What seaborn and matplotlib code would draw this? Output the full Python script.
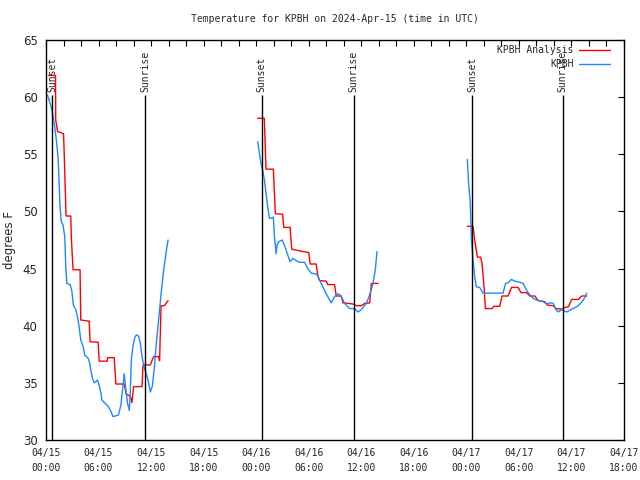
import pandas as pd
import numpy as np
import matplotlib
matplotlib.use("Agg")
import matplotlib.pyplot as plt
import matplotlib.dates as mdates
import seaborn as sns

# hours since 2024-04-15 00:00 UTC, temps in degrees F
# KPBH Analysis (red), three pieces
red_h1 = [0.29, 1.09, 1.11, 1.32, 2.0, 2.06, 2.29, 2.83, 2.9, 3.09, 3.89, 3.97, 4.93, 5.04, 5.96, 6.07,
          6.99, 7.04, 7.79, 7.98, 8.93, 9.16, 9.62, 9.82, 10.0, 10.96, 11.08, 11.91, 12.29, 12.86,
          12.97, 13.14, 13.52, 13.94]
red_t1 = [61.9, 61.9, 58.0, 57.0, 56.8, 55.55, 49.6, 49.6, 47.6, 44.9, 44.9, 40.5, 40.4, 38.6, 38.55, 36.9,
          36.9, 37.2, 37.2, 34.9, 34.9, 34.0, 33.85, 33.27, 34.67, 34.67, 36.57, 36.57, 37.3, 37.3,
          36.95, 41.75, 41.75, 42.2]
red_h2 = [24.17, 24.93, 25.12, 25.96, 26.19, 27.03, 27.15, 27.87, 28.06, 29.25, 30.0, 30.16, 30.85, 31.04,
          31.24, 31.99, 32.19, 32.95, 33.14, 33.71, 33.91, 35.05, 35.43, 36.0, 36.39, 36.96, 37.15, 37.92]
red_t2 = [58.15, 58.15, 53.7, 53.7, 49.8, 49.75, 48.6, 48.6, 46.7, 46.5, 46.4, 45.4, 45.4, 44.4,
          43.95, 43.9, 43.6, 43.6, 42.6, 42.6, 42.0, 41.9, 41.75, 41.75, 41.95, 42.0, 43.7, 43.7]
red_h3 = [48.11, 48.76, 48.95, 49.26, 49.63, 49.79, 50.02, 50.17, 50.94, 51.13, 51.81, 52.08, 52.77, 53.15,
          53.92, 54.22, 54.87, 55.25, 55.82, 56.21, 56.97, 57.27, 57.93, 58.19, 58.88, 59.26, 59.65,
          60.02, 60.79, 61.17, 61.74]
red_t3 = [48.7, 48.7, 47.5, 46.0, 46.0, 45.45, 43.4, 41.5, 41.5, 41.7, 41.7, 42.6, 42.6, 43.35,
          43.35, 42.9, 42.9, 42.6, 42.6, 42.2, 42.1, 41.8, 41.75, 41.5, 41.45, 41.6, 41.65,
          42.3, 42.3, 42.6, 42.6]

# KPBH observations (blue)
blue_h1 = [0.15, 0.54, 0.72, 1.0, 1.18, 1.37, 1.49, 1.6, 1.75, 1.95, 2.14, 2.26, 2.37, 2.75, 2.94, 3.13,
           3.4, 3.59, 3.78, 3.97, 4.24, 4.43, 4.62, 4.81, 5.0, 5.12, 5.3, 5.5, 5.69, 5.88, 6.07, 6.27,
           6.38, 6.76, 7.14, 7.41, 7.64, 7.9, 8.28, 8.56, 8.74, 8.93, 9.08, 9.31, 9.51, 9.62, 9.74,
           9.93, 10.11, 10.31, 10.57, 10.77, 10.96, 11.23, 11.45, 11.72, 11.91, 12.14, 12.37, 12.6,
           12.86, 13.14, 13.44, 13.75, 13.94]
blue_t1 = [60.2, 59.3, 58.7, 57.4, 56.25, 54.8, 52.75, 50.4, 49.1, 48.8, 47.8, 45.2, 43.7, 43.6, 43.1, 41.8,
           41.4, 40.8, 39.9, 38.75, 38.2, 37.4, 37.3, 37.15, 36.7, 36.1, 35.4, 35.0, 35.1, 35.25, 34.8, 34.1,
           33.5, 33.2, 32.9, 32.5, 32.05, 32.1, 32.2, 33.1, 34.4, 35.8, 34.7, 33.2, 32.6, 34.1, 37.0,
           38.2, 38.9, 39.2, 39.1, 38.5, 37.3, 36.3, 35.8, 35.0, 34.2, 34.7, 36.3, 38.5,
           40.5, 42.8, 44.9, 46.6, 47.5]
blue_h2 = [24.17, 24.36, 24.55, 24.74, 24.94, 25.12, 25.32, 25.51, 25.7, 25.96, 26.08, 26.27, 26.38, 26.58,
           26.96, 27.22, 27.6, 27.87, 28.18, 28.56, 28.94, 29.52, 29.9, 30.28, 30.93, 31.24, 31.62, 31.99,
           32.57, 32.95, 33.33, 33.71, 34.1, 34.67, 35.25, 35.62, 36.0, 36.57, 36.96, 37.34, 37.6, 37.8]
blue_t2 = [56.1, 55.1, 54.2, 53.6, 52.75, 51.6, 50.4, 49.4, 49.4, 49.5, 47.9, 46.3, 47.05, 47.35,
           47.5, 47.05, 46.2, 45.6, 45.9, 45.7, 45.55, 45.55, 45.0, 44.6, 44.5, 44.0, 43.4, 42.8,
           42.0, 42.55, 42.8, 42.6, 41.95, 41.5, 41.5, 41.2, 41.4, 41.95, 42.7, 43.7, 44.9, 46.5]
blue_h3 = [48.11, 48.26, 48.45, 48.57, 48.76, 48.95, 49.14, 49.52, 49.91, 52.2, 52.46, 52.77, 53.15, 53.53,
           54.1, 54.49, 54.87, 55.25, 55.63, 56.21, 56.78, 57.16, 57.54, 57.93, 58.19, 58.5, 58.88, 59.45,
           60.02, 60.6, 60.97, 61.36, 61.74]
blue_t3 = [54.55, 52.45, 50.7, 47.8, 45.75, 44.3, 43.4, 43.35, 42.85, 42.85, 43.7, 43.75, 44.05, 43.9,
           43.8, 43.7, 43.1, 42.7, 42.4, 42.2, 42.1, 41.9, 42.0, 41.95, 41.45, 41.2, 41.4, 41.2,
           41.45, 41.65, 41.9, 42.25, 42.85]

sunset = ["2024-04-15 00:41", "2024-04-16 00:39", "2024-04-17 00:39"]
sunrise = ["2024-04-15 11:19", "2024-04-16 11:09", "2024-04-17 11:01"]

start = pd.Timestamp("2024-04-15 00:00")


def piece(hours, temps, name, seg):
    return pd.DataFrame({"time": start + pd.to_timedelta(hours, unit="h"),
                         "temp": temps, "series": name, "seg": seg})


df = pd.concat([
    piece(red_h1, red_t1, "KPBH Analysis", 1),
    piece(red_h2, red_t2, "KPBH Analysis", 2),
    piece(red_h3, red_t3, "KPBH Analysis", 3),
    piece(blue_h1, blue_t1, "KPBH", 4),
    piece(blue_h2, blue_t2, "KPBH", 5),
    piece(blue_h3, blue_t3, "KPBH", 6),
], ignore_index=True)

sns.set_style("white")
mono = "DejaVu Sans Mono"
plt.rcParams["font.family"] = ["DejaVu Sans"]

fig = plt.figure(figsize=(6.4, 4.8), dpi=100)
ax = fig.add_axes([46 / 640, 40 / 480, 578 / 640, 400 / 480])

colors = {"KPBH Analysis": "#ff0000", "KPBH": "#1e88ff"}
sns.lineplot(data=df, x="time", y="temp", hue="series", units="seg", estimator=None,
             sort=False, palette=colors, linewidth=1, ax=ax, legend=False)

# sunrise / sunset markers
for t_list, label in [(sunset, "Sunset"), (sunrise, "Sunrise")]:
    for t in t_list:
        ts = pd.Timestamp(t)
        ax.vlines(ts, 30, 60.2, color="black", linewidth=1)
        ax.text(ts, 60.45, label, rotation=90, ha="center", va="bottom",
                family=mono, fontsize=7)

ax.set_xlim(start, start + pd.Timedelta(hours=66))
ax.set_ylim(30, 65)
ax.set_yticks(range(30, 66, 5))
ax.xaxis.set_major_locator(mdates.HourLocator(byhour=[0, 6, 12, 18]))
ax.xaxis.set_minor_locator(mdates.HourLocator(byhour=range(0, 24, 2)))
ax.xaxis.set_major_formatter(mdates.DateFormatter("%m/%d\n%H:%M"))

ax.tick_params(axis="both", which="both", direction="in", top=True, right=True,
               length=4, width=0.8, color="black")
ax.tick_params(axis="x", which="major", pad=6, labelsize=7)
ax.tick_params(axis="y", which="major", pad=6, labelsize=8.5)
for lab in ax.get_xticklabels():
    lab.set_family(mono)
    lab.set_linespacing(1.6)
for s in ax.spines.values():
    s.set_color("black")
    s.set_linewidth(1)

ax.set_xlabel("")
ax.set_ylabel("degrees F", fontsize=8.5)
ax.yaxis.set_label_coords(-0.052, 0.5)
ax.set_title("Temperature for KPBH on 2024-Apr-15 (time in UTC)", family=mono,
             fontsize=7, pad=13)

handles = [plt.Line2D([], [], color=colors[k], linewidth=1) for k in colors]
leg = ax.legend(handles, list(colors), loc="upper right", frameon=False, markerfirst=False,
                prop={"family": mono, "size": 7}, handlelength=3.1, handletextpad=0.6,
                labelspacing=0.45, borderaxespad=0.0, borderpad=0.3,
                bbox_to_anchor=(0.98, 0.995))

fig.savefig("out.png", dpi=100)
